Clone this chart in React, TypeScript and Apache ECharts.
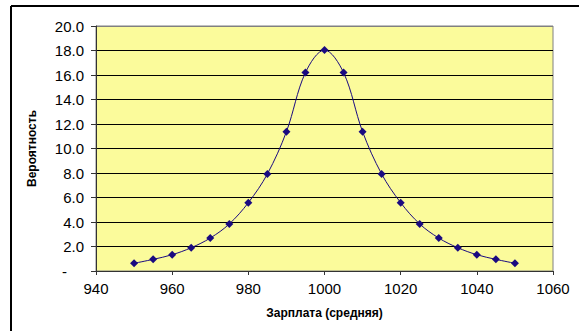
import React, { useEffect, useRef } from "react";
import * as echarts from "echarts";

const salaries = [950, 955, 960, 965, 970, 975, 980, 985, 990, 995, 1000, 1005, 1010, 1015, 1020, 1025, 1030, 1035, 1040, 1045, 1050];
const probabilities = [0.63, 0.95, 1.33, 1.9, 2.69, 3.84, 5.58, 7.92, 11.37, 16.2, 18.04, 16.2, 11.37, 7.92, 5.58, 3.84, 2.69, 1.9, 1.33, 0.95, 0.63];
const xTitle = "Зарплата (средняя)";
const yTitle = "Вероятность";

export default function App() {
  const ref = useRef<HTMLDivElement>(null);
  useEffect(() => {
    if (!ref.current) return;
    const chart = echarts.init(ref.current, null, { renderer: "svg" });
    const font = "'Liberation Sans', Arial, sans-serif";
    const gridColors = ["#000", "#000", "#000", "#000", "#000", "#000", "#000", "#000", "#000", "#000", "#808080"];
    chart.setOption({
      animation: false,
      backgroundColor: "#ffffff",
      grid: {
        left: 96,
        right: 26,
        top: 26,
        bottom: 60,
        show: true,
        backgroundColor: "#FBFB9B",
        borderColor: "#808080",
        borderWidth: 1,
      },
      xAxis: {
        type: "value",
        min: 940,
        max: 1060,
        interval: 20,
        name: xTitle,
        nameLocation: "middle",
        nameGap: 36,
        nameTextStyle: { fontFamily: font, fontSize: 12, fontWeight: "bold", color: "#000" },
        axisLine: { lineStyle: { color: "#333", width: 1 } },
        axisTick: { show: true, length: 4, lineStyle: { color: "#333" } },
        axisLabel: { fontFamily: font, fontSize: 15, color: "#000", margin: 10, formatter: (v: number) => String(v) },
        splitLine: { show: false },
      },
      yAxis: {
        type: "value",
        min: 0,
        max: 20,
        interval: 2,
        name: yTitle,
        nameLocation: "middle",
        nameGap: 58,
        nameTextStyle: { fontFamily: font, fontSize: 12, fontWeight: "bold", color: "#000" },
        axisLine: { show: true, lineStyle: { color: "#333", width: 1 } },
        axisTick: { show: true, length: 5, lineStyle: { color: "#333" } },
        axisLabel: {
          fontFamily: font,
          fontSize: 15,
          color: "#000",
          margin: 12,
          formatter: (v: number) => (v === 0 ? "{d|-}" : v.toFixed(1)),
          rich: { d: { fontFamily: font, fontSize: 15, color: "#000", padding: [0, 17, 0, 0] } },
        },
        splitLine: { show: true, lineStyle: { color: gridColors, width: 1 } },
      },
      series: [
        {
          type: "line",
          data: salaries.map((s, i) => [s, probabilities[i]]),
          smooth: 0.35,
          symbol: "diamond",
          symbolSize: 8,
          lineStyle: { color: "#1a0a80", width: 1 },
          itemStyle: { color: "#1a0a80" },
        },
      ],
      graphic: [
        { type: "line", shape: { x1: 11, y1: 6, x2: 579, y2: 6 }, style: { stroke: "#000", lineWidth: 2 } },
        { type: "line", shape: { x1: 11, y1: 6, x2: 11, y2: 331 }, style: { stroke: "#000", lineWidth: 2 } },
      ],
    });
    return () => chart.dispose();
  }, []);
  return <div ref={ref} style={{ position: "fixed", left: 0, top: 0, width: 579, height: 331 }} />;
}
